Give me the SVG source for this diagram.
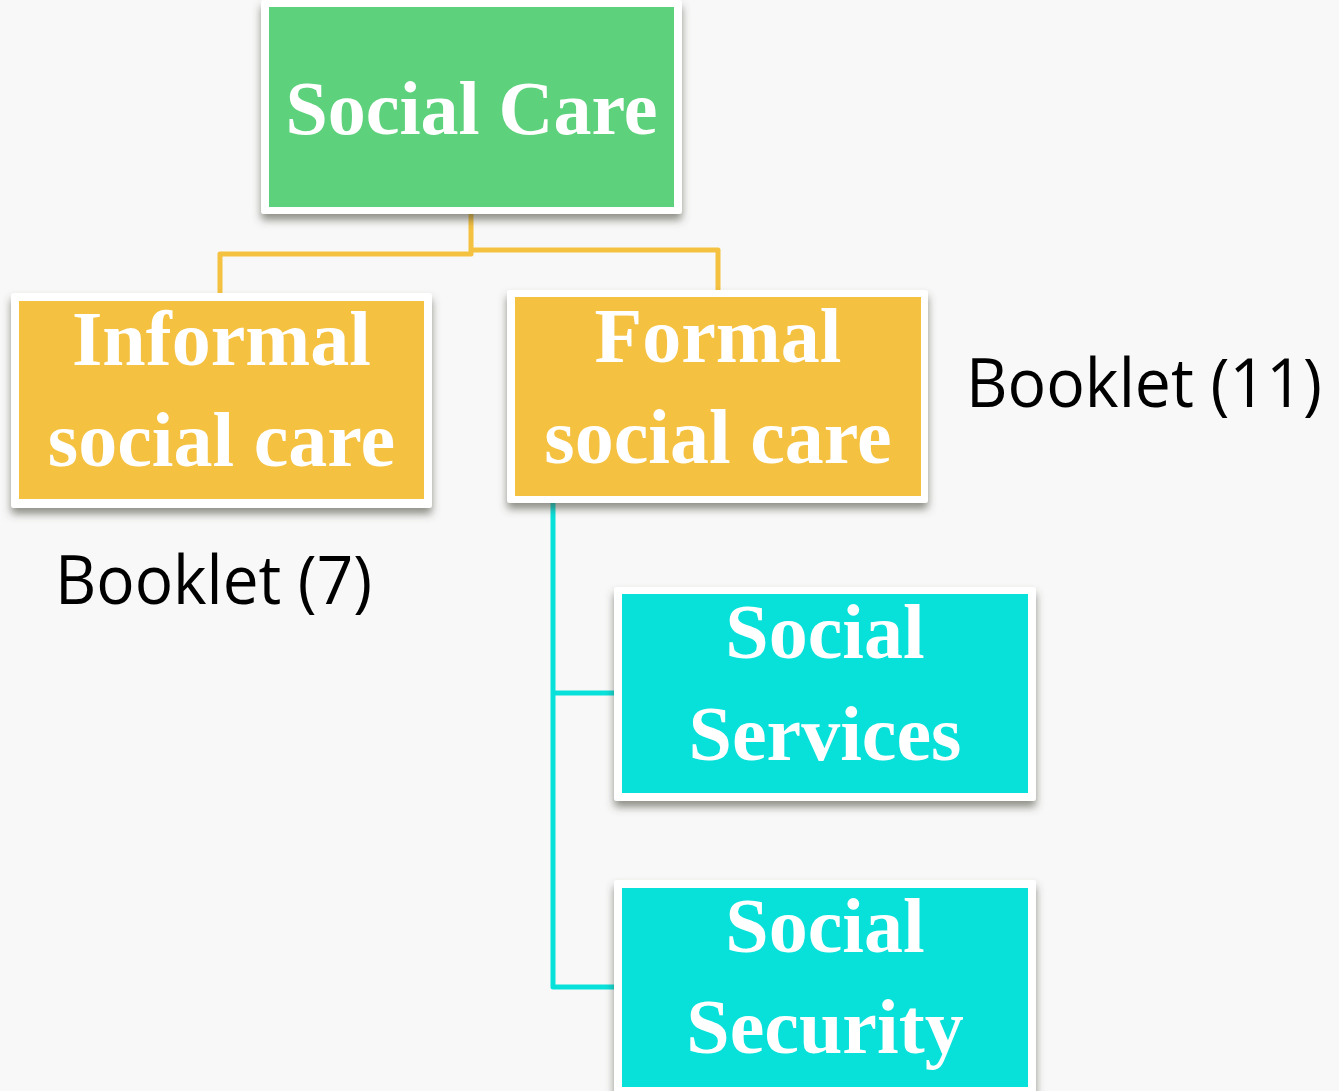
<svg xmlns="http://www.w3.org/2000/svg" width="1339" height="1091" viewBox="0 0 1339 1091">
<defs>
<filter id="sh" x="-10%" y="-10%" width="120%" height="130%">
<feDropShadow dx="0" dy="6" stdDeviation="4" flood-color="#4a4a3a" flood-opacity="0.6"/>
</filter>
<style>
.frame{fill:#ffffff;filter:url(#sh)}
.green{fill:#5DD17B}
.yellow{fill:#F4C141}
.cyan{fill:#08E1DA}
.t{font-family:"Liberation Serif","Times New Roman",serif;font-weight:bold;fill:#ffffff;text-anchor:middle}
.lab{font-family:"Open Sans","Noto Sans",sans-serif;font-size:67px;fill:#000000}
.cy{fill:none;stroke:#F4C141;stroke-width:5;stroke-linejoin:round}
.cc{fill:none;stroke:#08E1DA;stroke-width:5;stroke-linejoin:round}
</style>
</defs>
<rect width="1339" height="1091" fill="#F8F8F8"/>
<g id="connectors">
<path class="cy" d="M471,212 V254 H220 V295"/>
<path class="cy" d="M471,250 H718 V292"/>
<path class="cc" d="M553,500 V987 H616"/>
<path class="cc" d="M553,693 H616"/>
</g>
<g id="social-care">
<rect class="frame" x="261" y="0" width="421" height="214" rx="3"/>
<rect class="green" x="269" y="7" width="405" height="200"/>
<text class="t" x="471.5" y="134" font-size="76">Social Care</text>
</g>
<g id="informal">
<rect class="frame" x="11" y="293" width="421" height="215" rx="3"/>
<rect class="yellow" x="19" y="301" width="405" height="198"/>
<text class="t" x="221.5" y="365" font-size="78">Informal</text>
<text class="t" x="221.5" y="466" font-size="78">social care</text>
</g>
<g id="formal">
<rect class="frame" x="507" y="290" width="421" height="213" rx="3"/>
<rect class="yellow" x="515" y="297" width="406" height="199"/>
<text class="t" x="718" y="362" font-size="78">Formal</text>
<text class="t" x="718" y="463" font-size="78">social care</text>
</g>
<g id="social-services">
<rect class="frame" x="614" y="587" width="422" height="214" rx="3"/>
<rect class="cyan" x="622" y="594" width="406" height="199"/>
<text class="t" x="825" y="658" font-size="78">Social</text>
<text class="t" x="825" y="760" font-size="78">Services</text>
</g>
<g id="social-security">
<rect class="frame" x="614" y="880" width="422" height="220" rx="3"/>
<rect class="cyan" x="622" y="888" width="406" height="199"/>
<text class="t" x="825" y="952" font-size="78">Social</text>
<text class="t" x="825" y="1053" font-size="78">Security</text>
</g>
<g id="label-7">
<text class="lab" x="55" y="604" textLength="317" lengthAdjust="spacingAndGlyphs">Booklet (7)</text>
</g>
<g id="label-11">
<text class="lab" x="966" y="407" textLength="356" lengthAdjust="spacingAndGlyphs">Booklet (11)</text>
</g>
</svg>
